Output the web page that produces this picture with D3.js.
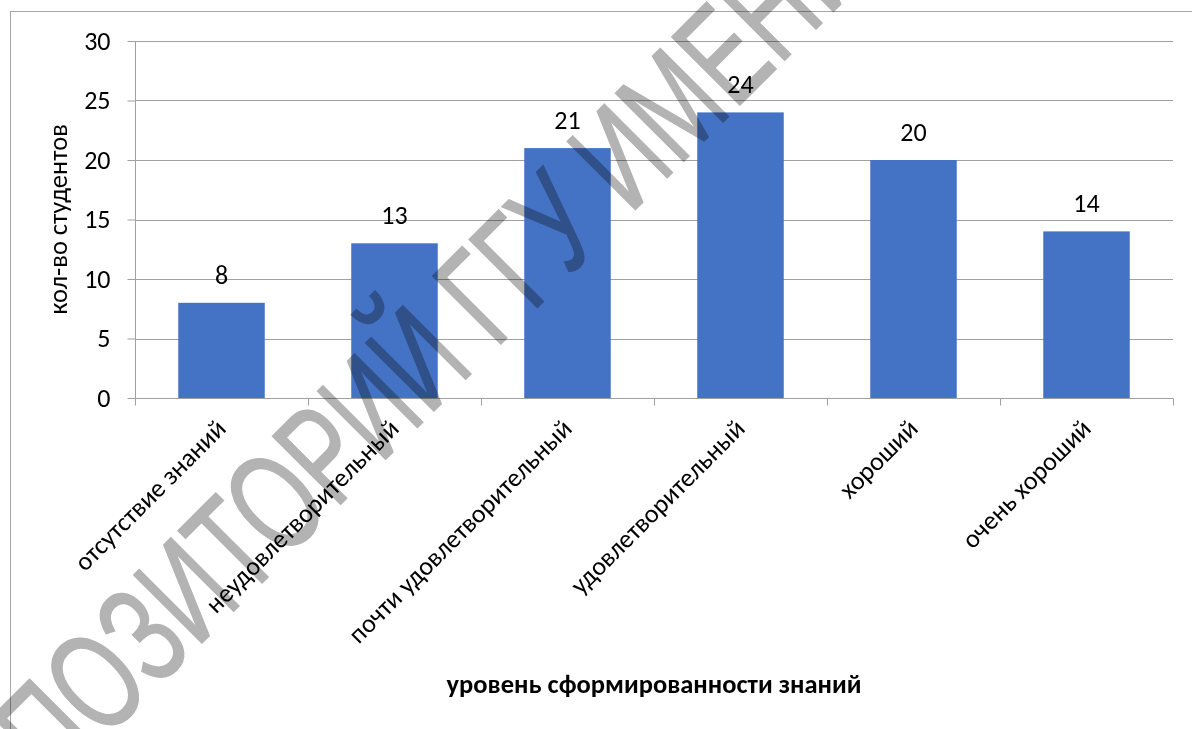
<!DOCTYPE html>
<html>
<head>
<meta charset="utf-8">
<script src="https://cdn.jsdelivr.net/npm/d3@7"></script>
<style>
  html, body { margin: 0; padding: 0; background: #ffffff; }
  svg { display: block; }
</style>
</head>
<body>
<svg id="chart" width="1192" height="729"></svg>
<script>
// ---- data ----
const categories = [
  "отсутствие знаний",
  "неудовлетворительный",
  "почти удовлетворительный",
  "удовлетворительный",
  "хороший",
  "очень хороший"
];
const values = [8, 13, 21, 24, 20, 14];
const yTicks = [0, 5, 10, 15, 20, 25, 30];
const yTitle = "кол-во студентов";
const xTitle = "уровень сформированности знаний";
const watermark = "РЕПОЗИТОРИЙ ГГУ ИМЕНИ Ф. СКОРИНЫ";

// ---- layout ----
const W = 1192, H = 729;
const plot = { left: 135, right: 1173, top: 41, bottom: 398 };
const FONT = "Carlito, 'Open Sans', 'Noto Sans', sans-serif";
const gridColor = "#a0a0a0";
const barColor = "#4472C4";

const svg = d3.select("#chart");
svg.append("rect").attr("width", W).attr("height", H).attr("fill", "#fff");

// chart frame (clipped by page edges)
svg.append("rect")
  .attr("x", 10.5).attr("y", 11.5)
  .attr("width", 1300).attr("height", 900)
  .attr("fill", "none").attr("stroke", "#a6a6a6").attr("stroke-width", 1);

const x = d3.scaleBand()
  .domain(categories)
  .range([plot.left, plot.right])
  .paddingInner(0.5)
  .paddingOuter(0.25);

const y = d3.scaleLinear()
  .domain([0, 30])
  .range([plot.bottom, plot.top]);

// gridlines
svg.append("g")
  .selectAll("line")
  .data(yTicks.filter(d => d > 0))
  .join("line")
  .attr("x1", plot.left).attr("x2", plot.right)
  .attr("y1", d => Math.round(y(d)) + 0.5).attr("y2", d => Math.round(y(d)) + 0.5)
  .attr("stroke", gridColor).attr("stroke-width", 1);

// bars
svg.append("g")
  .selectAll("rect")
  .data(values)
  .join("rect")
  .attr("x", (d, i) => x(categories[i]))
  .attr("width", x.bandwidth())
  .attr("y", d => y(d))
  .attr("height", d => y(0) - y(d))
  .attr("fill", barColor);

// y axis
const yAxis = d3.axisLeft(y).tickValues(yTicks).tickSize(8).tickPadding(17);
const gy = svg.append("g")
  .attr("transform", `translate(${plot.left + 0.5},0)`)
  .call(yAxis);
gy.select(".domain").attr("stroke", gridColor).attr("d", `M-0,${plot.top}V${plot.bottom + 7}`);
gy.selectAll(".tick line").attr("stroke", gridColor);
gy.selectAll(".tick text")
  .attr("font-family", FONT).attr("font-size", 26).attr("fill", "#000");

// x axis
const xAxis = d3.axisBottom(x).tickSize(0).tickFormat("");
const gx = svg.append("g")
  .attr("transform", `translate(0,${plot.bottom + 0.5})`)
  .call(xAxis);
gx.select(".domain").attr("stroke", gridColor).attr("d", `M${plot.left},0H${plot.right}`);
const step = x.step();
gx.append("g").selectAll("line")
  .data(d3.range(categories.length + 1))
  .join("line")
  .attr("x1", i => Math.round(plot.left + i * step) + 0.5)
  .attr("x2", i => Math.round(plot.left + i * step) + 0.5)
  .attr("y1", 0).attr("y2", 7)
  .attr("stroke", gridColor);

// category labels
svg.append("g")
  .selectAll("text")
  .data(categories)
  .join("text")
  .attr("transform", d => `translate(${x(d) + x.bandwidth() / 2 + 6},${430}) rotate(-45)`)
  .attr("text-anchor", "end")
  .attr("font-family", FONT).attr("font-size", 26).attr("fill", "#000")
  .text(d => d);

// data labels
svg.append("g")
  .selectAll("text")
  .data(values)
  .join("text")
  .attr("x", (d, i) => x(categories[i]) + x.bandwidth() / 2)
  .attr("y", d => y(d) - 19)
  .attr("text-anchor", "middle")
  .attr("font-family", FONT).attr("font-size", 26).attr("fill", "#000")
  .text(d => d);

// axis titles
svg.append("text")
  .attr("transform", `translate(67,${(plot.top + plot.bottom) / 2}) rotate(-90)`)
  .attr("text-anchor", "middle")
  .attr("font-family", FONT).attr("font-size", 26.5).attr("fill", "#000")
  .text(yTitle);

svg.append("text")
  .attr("x", (plot.left + plot.right) / 2)
  .attr("y", 693)
  .attr("text-anchor", "middle")
  .attr("font-family", FONT).attr("font-size", 26.5).attr("font-weight", "bold").attr("fill", "#000")
  .text(xTitle);

// watermark
svg.append("text")
  .attr("transform", "translate(-35,880) rotate(-45) scale(0.68,1)")
  .attr("font-family", "'Liberation Sans', Arial, sans-serif")
  .attr("font-size", 140)
  .attr("fill", "#b3b3b3")
  .attr("stroke", "#b3b3b3").attr("stroke-width", 1.5)
  .style("mix-blend-mode", "multiply")
  .text(watermark);
</script>
</body>
</html>
